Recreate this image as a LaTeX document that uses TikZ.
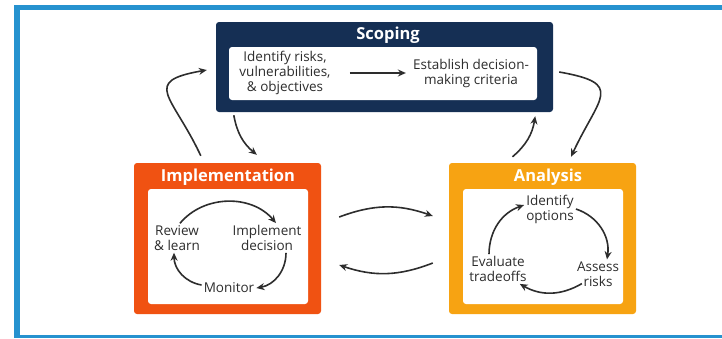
\documentclass[tikz,border=0pt]{standalone}
\usepackage{fontspec}
\setmainfont{Open Sans}
\usepackage{xcolor}
\usepackage{tikz}
\usetikzlibrary{arrows.meta, positioning}

\definecolor{scopeblue}{RGB}{21,47,84}
\definecolor{implorange}{RGB}{240,82,18}
\definecolor{anaorange}{RGB}{247,163,18}
\definecolor{frameblue}{RGB}{38,146,207}
\definecolor{textgray}{RGB}{45,45,45}

\begin{document}
\begin{tikzpicture}[
    x=1pt, y=-1pt,
    stage/.style={rectangle, rounded corners=3pt, minimum width=187pt, minimum height=151pt},
    panel/.style={rectangle, fill=white, rounded corners=3pt},
    heading/.style={text=white, font=\bfseries\fontsize{16.5}{19}\selectfont},
    steptext/.style={align=center, text=textgray, inner sep=2pt, font=\fontsize{13.5}{15}\selectfont},
    arrow/.style={-{Stealth[length=8pt, width=7pt]}, line width=1.6pt, textgray}
]
\useasboundingbox (0,0) rectangle (722,338);

% Frame
\fill[frameblue] (14,5) rectangle (722,10);
\fill[frameblue] (14,5) rectangle (20,338);
\fill[frameblue] (14,335) rectangle (722,338);

% Nodes
\node[stage, fill=scopeblue, minimum width=337pt, minimum height=90pt] (scoping) at (384.5,67) {};
\node[panel, minimum width=308pt, minimum height=53pt] (scopepanel) at (383,73.5) {};
\node[heading] (scopetitle) at (388,35) {Scoping};
\node[steptext] (risks) at (285,73) {Identify risks,\\vulnerabilities,\\\& objectives};
\node[steptext] (criteria) at (471,73) {Establish decision-\\making criteria};

\node[stage, fill=implorange] (impl) at (227.5,238.5) {};
\node[panel, minimum width=160pt, minimum height=115pt] (implpanel) at (228,246.5) {};
\node[heading] (impltitle) at (228,177) {Implementation};
\node[steptext] (review) at (177,238) {Review\\\& learn};
\node[steptext] (implement) at (267,238) {Implement\\decision};
\node[steptext] (monitor) at (229,288) {Monitor};

\node[stage, fill=anaorange] (analysis) at (542.5,238.5) {};
\node[panel, minimum width=160pt, minimum height=115pt] (anapanel) at (543,246.5) {};
\node[heading] (anatitle) at (548,177) {Analysis};
\node[steptext] (options) at (550,209) {Identify\\options};
\node[steptext] (assess) at (598,274) {Assess\\risks};
\node[steptext] (tradeoffs) at (498,269) {Evaluate\\tradeoffs};

% Arrows
\draw[arrow] ([xshift=17pt]risks.east) -- ([xshift=-5pt]criteria.west);

\draw[arrow] ([xshift=3pt]review.north) to[bend left=50] ([xshift=9pt]implement.north);
\draw[arrow] ([xshift=19pt]implement.south) to[bend left=40] (monitor.east);
\draw[arrow] ([yshift=3pt]monitor.west) to[bend left=40] ([xshift=-3pt]review.south);

\draw[arrow] (options.east) to[bend left=40] ([xshift=9pt]assess.north);
\draw[arrow] ([xshift=7pt,yshift=5pt]assess.south west) to[bend left=30] ([xshift=-9pt]tradeoffs.south east);
\draw[arrow] ([xshift=-9pt]tradeoffs.north) to[bend left=35] ([yshift=4pt]options.west);

\draw[arrow] ([shift={(18,-21.5)}]impl.east) to[bend left=20] ([shift={(-16,-22.5)}]analysis.west);
\draw[arrow] ([shift={(-16,24.5)}]analysis.west) to[bend left=20] ([shift={(18,26.5)}]impl.east);

\draw[arrow] ([shift={(67,-7)}]impl.north west) to[out=115, in=190, looseness=2] ([shift={(-9,3)}]scoping.west);
\draw[arrow] ([shift={(18,3)}]scoping.south west) to[bend right=20] ([shift={(123,-8)}]impl.north west);
\draw[arrow] ([shift={(6,5)}]scoping.east) to[out=-10, in=65, looseness=2] ([shift={(28.5,-6)}]analysis.north);
\draw[arrow] ([shift={(-30,-6)}]analysis.north) to[bend right=20] ([shift={(-18,4)}]scoping.south east);

\end{tikzpicture}
\end{document}
